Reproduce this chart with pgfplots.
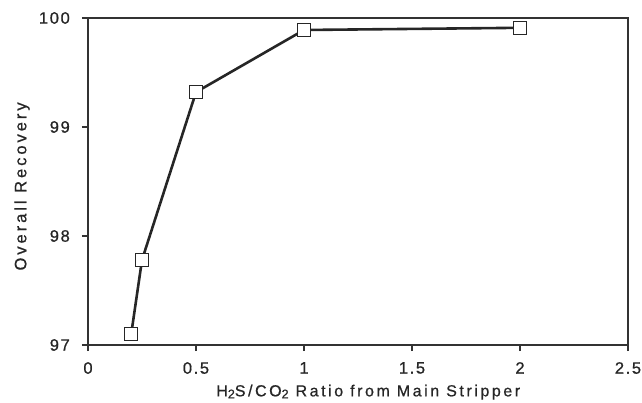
\documentclass[border=0pt]{standalone}
\usepackage{pgfplots}
\pgfplotsset{compat=1.18}
\usepackage{fontspec}
\setmainfont{Liberation Sans}
\newfontfamily\ticksf[LetterSpace=10,FakeBold=0.8]{Liberation Sans}
\newfontfamily\xlabsf[LetterSpace=16,FakeBold=0.8]{Liberation Sans}
\newfontfamily\ylabsf[LetterSpace=18,FakeBold=0.8]{Liberation Sans}
\begin{document}
\begin{tikzpicture}[x=1pt,y=1pt]
\path[use as bounding box] (-88pt,-57pt) rectangle (554pt,345pt);
\begin{axis}[
  at={(0pt,0pt)}, anchor=south west,
  scale only axis,
  width=540pt, height=327pt,
  xmin=0, xmax=2.5, ymin=97, ymax=100,
  xtick={0,0.5,1,1.5,2,2.5},
  ytick={97,98,99,100},
  xticklabels={0,0.5,1,1.5,2,2.5},
  yticklabels={97,98,99,100},
  tick align=outside,
  tick pos=left,
  major tick length=6pt,
  axis line style={line width=1.6pt, black!80},
  every tick/.style={line width=1.2pt, black!80},
  tick label style={font=\fontsize{16.5}{18}\selectfont\ticksf, text=black!85},
  yticklabel style={anchor=east, inner xsep=0pt, xshift=-12pt},
  xticklabel style={anchor=north, inner ysep=0pt, yshift=-11pt},
  xlabel={\xlabsf H\raisebox{-2pt}{\fontsize{12.5}{12}\selectfont 2}S/CO\raisebox{-2pt}{\fontsize{12.5}{12}\selectfont 2} Ratio from Main Stripper},
  ylabel={\ylabsf Overall Recovery},
  xlabel style={font=\fontsize{16}{18}\selectfont, text=black!85,
    at={(axis description cs:0.519,-0.157)}, anchor=base, inner sep=0pt},
  ylabel style={font=\fontsize{16.5}{18}\selectfont, text=black!85,
    at={(axis description cs:-0.1222,0.485)}, anchor=center, inner sep=0pt},
  clip=false,
]
\addplot[line width=2.6pt, black!85, mark=square*, mark size=6.5pt,
  mark options={fill=white, draw=black!85, line width=1.4pt}]
  coordinates {(0.2,97.1) (0.25,97.78) (0.5,99.32) (1,99.89) (2,99.91)};
\end{axis}
\end{tikzpicture}
\end{document}
